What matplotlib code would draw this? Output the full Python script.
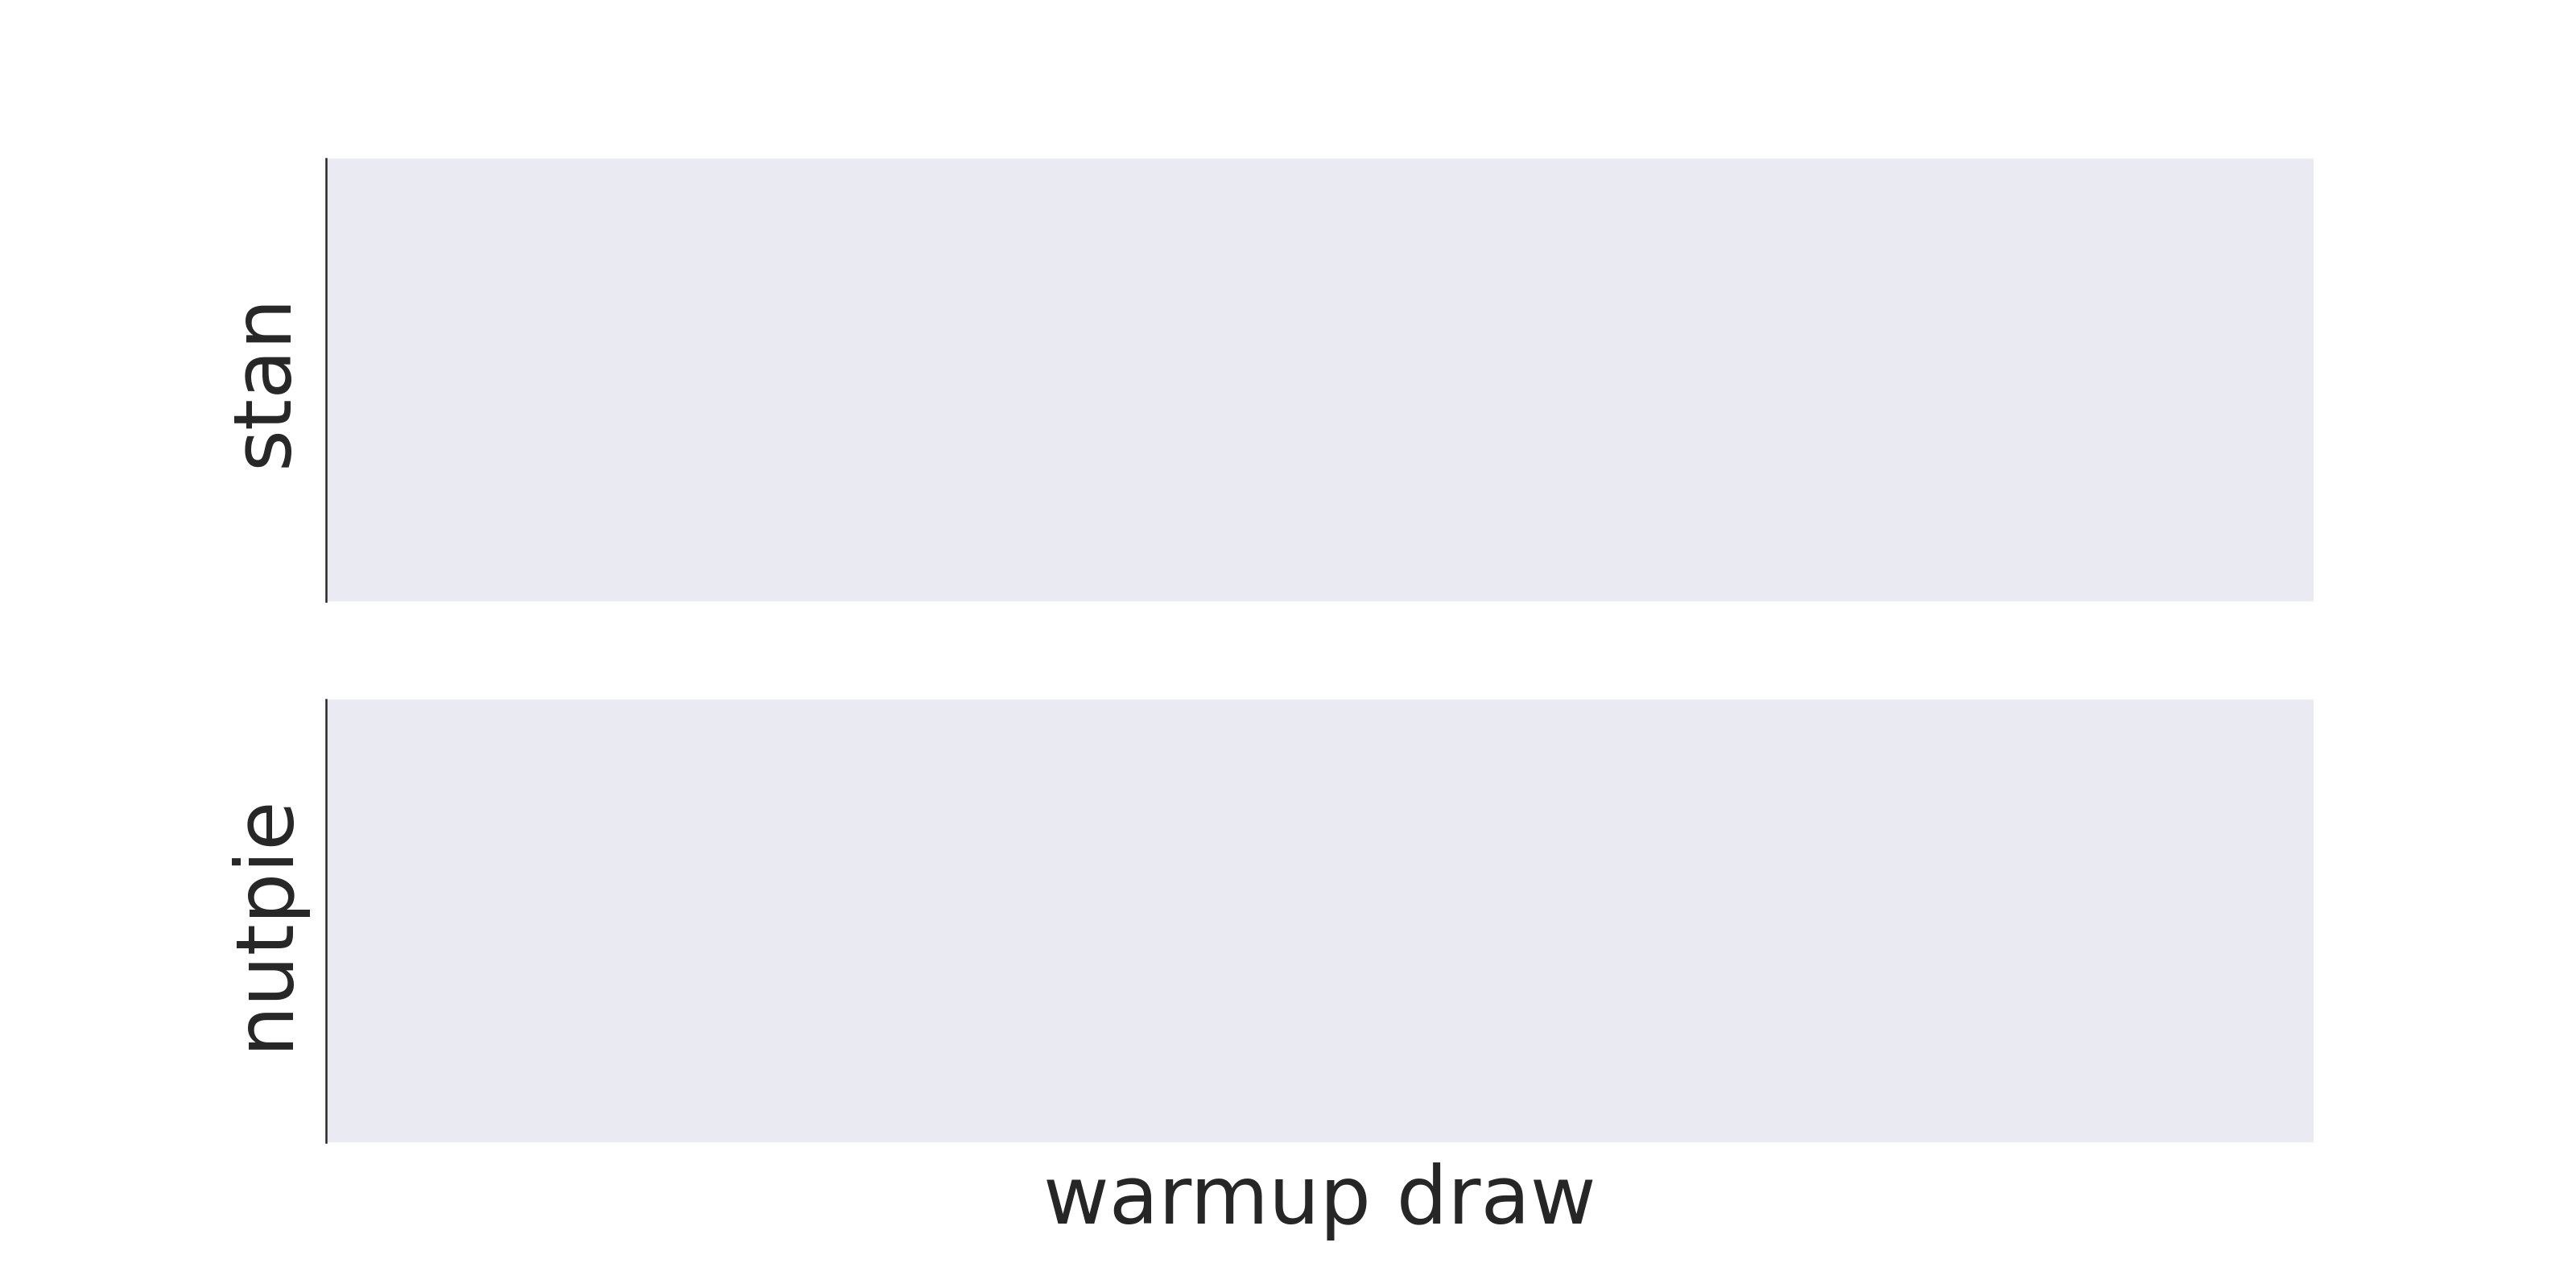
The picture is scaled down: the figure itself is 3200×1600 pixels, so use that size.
import matplotlib
matplotlib.use("Agg")
import matplotlib.pyplot as plt

# Data: panel labels (the panels contain no plotted values)
panel_labels = ["stan", "nutpie"]
x_label = "warmup draw"

plt.rcParams['font.family'] = ['DejaVu Sans']

fig, axes = plt.subplots(2, 1, figsize=(16, 8), dpi=200)
fig.subplots_adjust(left=405/3200, right=2874/3200, top=1-197/1600,
                    bottom=1-1419/1600, hspace=122/550)

for ax, lab in zip(axes, panel_labels):
    ax.set_facecolor('#EAEAF2')
    for s in ['top', 'right', 'bottom']:
        ax.spines[s].set_visible(False)
    ax.spines['left'].set_color('#262626')
    ax.spines['left'].set_linewidth(0.9)
    ax.set_xticks([])
    ax.set_yticks([])
    ax.set_ylabel(lab, fontsize=36, color='#262626', labelpad=10)

axes[1].set_xlabel(x_label, fontsize=36, color='#262626', labelpad=9)

fig.savefig("out.png", dpi=200, facecolor='white')
